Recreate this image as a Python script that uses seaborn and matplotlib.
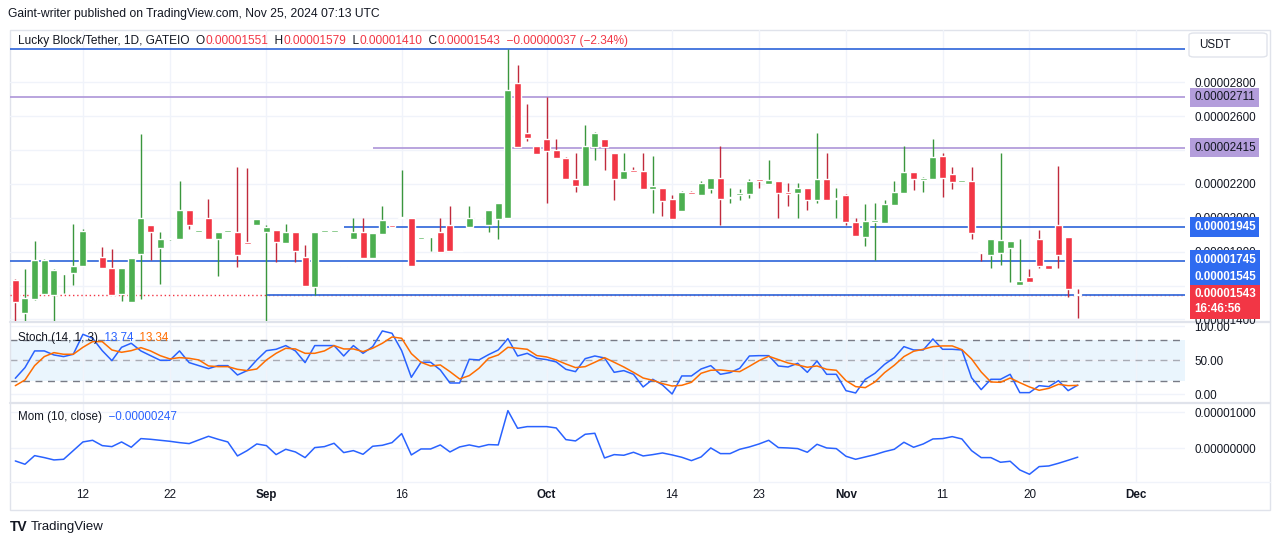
import numpy as np
import pandas as pd
import seaborn as sns
import matplotlib.pyplot as plt
from matplotlib.patches import Rectangle, FancyBboxPatch
from matplotlib.transforms import blended_transform_factory
from matplotlib.lines import Line2D

# LBLOCK/USDT daily candles, prices in units of 1e-8 USDT
opens = [1634, 1440, 1523, 1553, 1545, 1668, 1672, 1713, 1851, 1770, 1705, 1553, 1506, 1784, 1960, 1820,
         1873, 1873, 2049, 1918, 2002, 1873, 1918, 1919, 1855, 1956, 1915, 1931, 1849, 1919, 1770, 1589,
         1918, 1918, 1710, 1877, 1919, 1764, 1907, 1960, 1997, 2002, 1873, 1886, 1919, 1960, 1805, 1948,
         1997, 1956, 1996, 2002, 2796, 2500, 2423, 2464, 2399, 2352, 2227, 2186, 2417, 2464, 2381, 2227,
         2274, 2275, 2172, 2174, 2114, 2043, 2146, 2132, 2168, 2233, 2117, 2137, 2138, 2227, 2198, 2215,
         2150, 2144, 2174, 2103, 2227, 2111, 2132, 1978, 1889, 1977, 1972, 2073, 2144, 2269, 2226, 2227,
         2364, 2257, 2214, 2215, 1800, 1782, 1794, 1824, 1605, 1652, 1877, 1723, 1960, 1889, 1551]
highs = [1640, 1699, 1865, 1757, 1697, 1676, 1966, 1935, 1856, 1828, 1818, 1705, 1764, 2494, 1960, 1919,
         1876, 2215, 2049, 1920, 2114, 1919, 1920, 2300, 2294, 1996, 1958, 1931, 1962, 1919, 1842, 1919,
         1920, 1920, 1710, 2002, 2002, 1913, 2069, 1960, 2281, 2002, 1889, 1888, 2002, 2069, 1807, 2069,
         1999, 2049, 2085, 2994, 2905, 2672, 2423, 2714, 2464, 2358, 2381, 2547, 2505, 2464, 2381, 2381,
         2298, 2381, 2364, 2174, 2132, 2156, 2156, 2215, 2233, 2423, 2174, 2168, 2227, 2227, 2340, 2215,
         2203, 2203, 2174, 2500, 2381, 2174, 2138, 2002, 2079, 2085, 2108, 2215, 2423, 2269, 2239, 2464,
         2381, 2298, 2216, 2298, 1800, 1877, 2381, 1865, 1877, 1699, 1931, 1723, 2304, 1889, 1579]
lows = [1387, 1387, 1515, 1550, 1387, 1555, 1605, 1713, 1850, 1701, 1543, 1511, 1506, 1519, 1749, 1607,
        1872, 1873, 1937, 1918, 1873, 1654, 1918, 1707, 1844, 1956, 1387, 1739, 1849, 1739, 1595, 1543,
        1918, 1918, 1708, 1877, 1764, 1764, 1907, 1948, 1997, 1717, 1873, 1802, 1796, 1802, 1805, 1948,
        1997, 1919, 1877, 2002, 2417, 2453, 2375, 2087, 2352, 2227, 2150, 2186, 2340, 2281, 2108, 2227,
        2272, 2168, 2031, 2008, 1996, 2043, 2143, 2132, 2144, 1960, 2085, 2108, 2120, 2174, 2198, 2002,
        2067, 2002, 2049, 2085, 2108, 2002, 1960, 1895, 1836, 1753, 1972, 2073, 2144, 2162, 2150, 2227,
        2126, 2168, 2214, 1877, 1747, 1705, 1723, 1622, 1605, 1622, 1705, 1699, 1705, 1533, 1410]
closes = [1506, 1527, 1753, 1753, 1693, 1674, 1717, 1925, 1855, 1701, 1543, 1705, 1764, 2002, 1915, 1877,
          1875, 2049, 1956, 1920, 1873, 1919, 1920, 1778, 1844, 1996, 1948, 1855, 1919, 1802, 1595, 1919,
          1920, 1920, 1708, 1919, 1764, 1913, 1990, 1948, 1999, 1717, 1889, 1888, 1796, 1802, 1807, 2002,
          1999, 2049, 2085, 2755, 2417, 2470, 2375, 2393, 2352, 2227, 2186, 2423, 2500, 2417, 2227, 2275,
          2272, 2168, 2186, 2097, 1996, 2150, 2143, 2203, 2233, 2114, 2119, 2139, 2215, 2215, 2221, 2144,
          2138, 2174, 2103, 2227, 2108, 2113, 1978, 1895, 1984, 1979, 2079, 2150, 2269, 2227, 2228, 2358,
          2233, 2209, 2216, 1913, 1790, 1877, 1871, 1865, 1628, 1622, 1717, 1699, 1782, 1580, 1543]

# Stoch (14, 1, 3)
stoch_k = [23.7, 39.3, 63.7, 63.7, 57.8, 55.4, 58.8, 88.0, 82.2, 64.1, 49.5, 69.0, 74.9, 63.7, 56.8, 50.0,
           50.0, 63.7, 46.6, 42.2, 37.8, 42.2, 42.2, 28.5, 34.9, 50.5, 64.1, 66.1, 71.5, 63.7, 46.6, 71.5,
           71.5, 71.5, 56.3, 71.5, 60.2, 70.0, 92.9, 89.5, 64.1, 25.1, 47.1, 47.1, 35.9, 16.8, 16.8, 51.5,
           50.5, 58.3, 65.1, 81.7, 56.3, 60.2, 52.9, 51.0, 47.6, 36.8, 33.4, 52.4, 56.3, 53.4, 32.4, 34.9,
           29.5, 11.0, 22.2, 13.9, 0.7, 27.1, 27.1, 37.3, 42.2, 29.5, 32.0, 38.3, 56.3, 56.8, 56.8, 41.7,
           40.2, 45.6, 32.4, 49.0, 29.5, 29.5, 5.6, 2.2, 22.2, 31.0, 44.1, 53.9, 70.0, 65.1, 65.1, 81.2,
           66.1, 66.1, 65.1, 24.6, 7.1, 22.2, 22.2, 29.5, 2.7, 2.7, 12.9, 11.5, 20.2, 5.6, 13.74]
stoch_d = [12.9, 21.2, 42.2, 55.4, 61.2, 58.8, 58.8, 69.0, 77.3, 77.3, 65.1, 61.7, 64.1, 68.5, 63.7, 56.8,
           52.0, 53.9, 52.9, 50.5, 41.7, 40.7, 40.7, 36.8, 34.9, 37.3, 50.5, 60.2, 67.6, 66.6, 60.2, 60.2,
           63.7, 71.5, 66.6, 66.6, 62.7, 67.6, 74.9, 84.1, 82.2, 59.8, 47.1, 41.7, 43.2, 33.4, 22.7, 27.6,
           38.3, 52.9, 57.8, 69.0, 67.6, 66.1, 56.8, 54.9, 50.5, 44.6, 39.3, 40.7, 47.1, 53.9, 47.1, 40.2,
           32.4, 24.1, 20.7, 15.9, 12.4, 13.4, 17.8, 31.0, 35.4, 35.9, 34.4, 33.4, 41.2, 49.5, 55.9, 51.0,
           46.1, 43.2, 39.8, 41.7, 36.8, 35.4, 20.2, 11.5, 10.0, 18.3, 32.0, 42.7, 55.4, 63.2, 66.1, 70.0,
           71.0, 71.0, 65.6, 52.0, 32.9, 18.3, 17.8, 24.1, 17.3, 11.0, 6.1, 9.0, 14.9, 12.9, 13.34]

# Mom (10, close), units of 1e-8 USDT
momentum = [-352, -444, -204, -259, -324, -306, -65, 176, 222, 74, 46, 176, 28, 269, 250, 222,
            194, 157, 130, 232, 333, 250, 176, -213, -65, 120, 74, -176, -28, -102, -259, 19,
            46, 139, -120, -65, -167, 56, 83, 157, 407, -185, -19, -19, 93, -102, 37, 93,
            37, 102, 93, 1046, 556, 602, 602, 602, 565, 241, 204, 389, 417, -269, -176, -194,
            -111, -213, -176, -130, -185, -250, -343, -241, 9, -148, -148, -28, 37, 120, 222, 19,
            9, -9, -111, 111, 9, -9, -222, -306, -241, -176, -93, -28, 167, 28, 120, 259,
            269, 324, 259, -65, -259, -259, -389, -361, -602, -722, -509, -491, -417, -333, -247]

tick_pos = [7, 16, 26, 40, 55, 68, 77, 86, 96, 105, 116]
tick_labels = ['12', '22', 'Sep', '16', 'Oct', '14', '23', 'Nov', '11', '20', 'Dec']
month_labels = ['Sep', 'Oct', 'Nov', 'Dec']

# drawn levels: value, first candle (None = whole width), colour
level_values = [2995, 2711, 2415, 1945, 1745, 1545]
level_starts = [None, None, 37, 34, None, 26]
level_colors = ['#3d6fdc', '#b39ddb', '#b39ddb', '#3d6fdc', '#3d6fdc', '#3d6fdc']

df = pd.DataFrame({'open': opens, 'high': highs, 'low': lows, 'close': closes,
                   'k': stoch_k, 'd': stoch_d, 'mom': momentum})
df['idx'] = np.arange(len(df))

GREEN, RED = '#4caf50', '#f23645'
GREEN_W, RED_W = '#3a963d', '#c02a3c'
TXT = '#131722'
GRID = '#f0f3fa'
BORDER = '#e0e3eb'

sns.set_style('white')
plt.rcParams['font.family'] = ['Liberation Sans', 'DejaVu Sans']
FS = 8.4

W, H = 1281, 545
fig = plt.figure(figsize=(W / 100, H / 100), dpi=100)


def fx(px):
    return px / W


def fy(py):
    return 1 - py / H


left, right = 10, 1185
ax_p = fig.add_axes([fx(left), fy(321), (right - left) / W, 291 / H])
ax_s = fig.add_axes([fx(left), fy(402), (right - left) / W, 80 / H])
ax_m = fig.add_axes([fx(left), fy(482), (right - left) / W, 79 / H])
ax_p.set_zorder(3)
for ax in (ax_p, ax_s, ax_m):
    ax.patch.set_visible(False)
    for sp in ax.spines.values():
        sp.set_visible(False)
    ax.set_xlim(-0.55, 121.1)
    ax.set_xticks(tick_pos)
    ax.grid(True, color=GRID, lw=1)
    ax.set_axisbelow(True)
    ax.yaxis.tick_right()
    ax.tick_params(length=0, labelsize=FS, labelcolor=TXT, pad=6.5)

# ---- price panel
ax_p.set_ylim(1391, 3109)
pticks = list(range(1400, 2801, 200))
ax_p.set_yticks(pticks)
# 0.00002400 sits fully behind the 0.00002415 tag in the original
ax_p.set_yticklabels(['' if v == 2400 else f'{v * 1e-8:.8f}' for v in pticks])
ax_p.set_xticklabels([])

up = df['close'] >= df['open']
body_lo = df[['open', 'close']].min(axis=1)
body_h = (df['close'] - df['open']).abs().clip(lower=8)
ax_p.vlines(df['idx'], df['low'], df['high'], colors=np.where(up, GREEN_W, RED_W), lw=1, zorder=2)
ax_p.bar(df['idx'], body_h, bottom=body_lo, width=0.72, color=np.where(up, GREEN, RED), zorder=3)

ax_p.axhline(closes[-1], color=RED, lw=1, ls=(0, (1, 2)), zorder=1)
xmax = ax_p.get_xlim()[1]
for v, s, c in zip(level_values, level_starts, level_colors):
    if s is None:
        ax_p.axhline(v, color=c, lw=1.3, zorder=1.5)
    else:
        ax_p.hlines(v, s, xmax, color=c, lw=1.3, zorder=1.5)


def tag(ax, value, text, fc, tc, dy=0, va='center', weight='normal', ls=1.4):
    tr = blended_transform_factory(ax.transAxes, ax.transData)
    ax.annotate(text, xy=(1.0, value), xycoords=tr, xytext=(6.5, dy), textcoords='offset points',
                ha='left', va=va, fontsize=FS, color=tc, fontweight=weight, zorder=10,
                annotation_clip=False, linespacing=ls,
                bbox=dict(boxstyle='square,pad=0.32', fc=fc, ec='none'))


tag(ax_p, 2711, '0.00002711', '#b39ddb', TXT)
tag(ax_p, 2415, '0.00002415', '#b39ddb', TXT)
tag(ax_p, 1945, '0.00001945', '#2f6bf0', 'white', weight='bold')
tag(ax_p, 1745, '0.00001745\n0.00001545', '#2f6bf0', 'white', dy=5, va='top', weight='bold', ls=1.5)
tag(ax_p, closes[-1], '0.00001543\n16:46:56', RED, 'white', dy=5, va='top', weight='bold', ls=1.3)

# ---- stoch panel
ax_s.set_ylim(-11, 106)
ax_s.set_yticks([0, 50, 100])
ax_s.set_yticklabels(['0.00', '50.00', '100.00'])
ax_s.set_xticklabels([])
ax_s.axhspan(20, 80, color='#2196f3', alpha=0.09, lw=0, zorder=0.5)
ax_s.axhline(80, color='#787b86', lw=1, ls=(0, (5, 4)))
ax_s.axhline(20, color='#787b86', lw=1, ls=(0, (5, 4)))
ax_s.axhline(50, color='#787b86', lw=1, ls=(0, (5, 4)), alpha=0.6)
sns.lineplot(data=df, x='idx', y='k', ax=ax_s, color='#2962ff', lw=1.1)
sns.lineplot(data=df, x='idx', y='d', ax=ax_s, color='#ff6d00', lw=1.1)
ax_s.set_xlabel('')
ax_s.set_ylabel('')

# ---- momentum panel
ax_m.set_ylim(-937, 1258)
ax_m.set_yticks([0, 1000])
ax_m.set_yticklabels(['0.00000000', '0.00001000'])
sns.lineplot(data=df, x='idx', y='mom', ax=ax_m, color='#2962ff', lw=1.1)
ax_m.set_xlabel('')
ax_m.set_ylabel('')
ax_m.set_xticks(tick_pos)
ax_m.set_xticklabels(tick_labels)
ax_m.tick_params(axis='x', pad=5)
for lab in ax_m.get_xticklabels():
    if lab.get_text() in month_labels:
        lab.set_fontweight('bold')


def chain_text(x, y, parts, size=FS):
    # consecutive coloured pieces of one legend line
    t = fig.text(fx(x), fy(y), parts[0][0], color=parts[0][1], fontsize=size, va='center', ha='left', zorder=20)
    for s, c in parts[1:]:
        t = ax_p.annotate(s, xy=(1, 0), xycoords=t, xytext=(0, 0), textcoords='offset points',
                          va='bottom', ha='left', color=c, fontsize=size, annotation_clip=False, zorder=20)
    return t


fig.text(fx(8), fy(14), 'Gaint-writer published on TradingView.com, Nov 25, 2024 07:13 UTC',
         fontsize=8.7, color=TXT, va='center')
chain_text(18, 41, [('Lucky Block/Tether, 1D, GATEIO  O', TXT), ('0.00001551', RED), ('  H', TXT),
                    ('0.00001579', RED), ('  L', TXT), ('0.00001410', RED), ('  C', TXT),
                    ('0.00001543', RED), ('  \u22120.00000037 (\u22122.34%)', RED)], size=8.6)
chain_text(18, 338, [('Stoch (14, 1, 3)', TXT), ('  13.74', '#2962ff'), ('  13.34', '#ff6d00')])
chain_text(18, 417, [('Mom (10, close)', TXT), ('  \u22120.00000247', '#2962ff')])

# frame, panel separators, currency box, footer
fig.patches.append(Rectangle((fx(10), fy(510)), (1270 - 10) / W, (510 - 30) / H, transform=fig.transFigure,
                             fill=False, ec=BORDER, lw=1))
for yy in (321.5, 402.5):
    fig.lines.append(Line2D([fx(10), fx(1270)], [fy(yy), fy(yy)], transform=fig.transFigure,
                            color=BORDER, lw=1.6))
fig.lines.append(Line2D([fx(10), fx(1270)], [fy(482), fy(482)], transform=fig.transFigure,
                        color=GRID, lw=1))
fig.patches.append(FancyBboxPatch((fx(1189), fy(57)), 78 / W, 24 / H, boxstyle='round,pad=0,rounding_size=0.004',
                                  transform=fig.transFigure, fc='white', ec=BORDER, lw=1))
fig.text(fx(1199), fy(45), 'USDT', fontsize=FS, color=TXT, va='center')
fig.text(fx(10), fy(527), 'TV', fontsize=10, color=TXT, va='center', fontweight='heavy')
fig.text(fx(31), fy(527), 'TradingView', fontsize=9.5, color=TXT, va='center')

fig.savefig('out.png', dpi=100)
